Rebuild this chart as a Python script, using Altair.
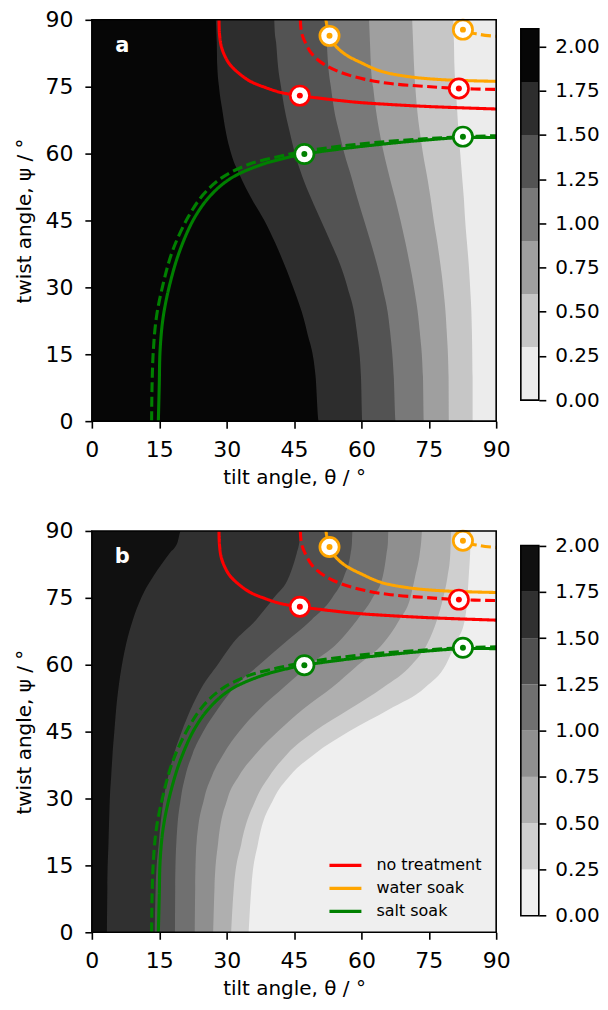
import altair as alt
import pandas as pd

FONT = "DejaVu Sans"
THETA_MIN, THETA_MAX = 0, 90
PSI_MIN, PSI_MAX = 0, 90
AXIS_TICKS = [0, 15, 30, 45, 60, 75, 90]
CB_TICKS = [0.0, 0.25, 0.5, 0.75, 1.0, 1.25, 1.5, 1.75, 2.0]

# twist angle grid on which contour lines were read
PSI = [90, 87.5, 85, 80, 75, 70, 65, 60, 55, 50, 45, 40, 35, 30, 20, 10, 0]

# ---- panel a: contour levels and contour-line tilt angles (per PSI) ----
LEVELS_A = [0.0, 0.3, 0.6, 0.9, 1.2, 1.5, 1.8, 2.1]
CONT_A_180 = [27.6, 27.7, 27.8, 27.9, 28.3, 29.0, 29.8, 31.0, 33.0, 35.5, 38.4, 40.8, 42.9, 44.8, 47.9, 49.8, 50.5]
CONT_A_150 = [40.6, 40.7, 41.0, 41.4, 42.1, 42.9, 44.0, 45.2, 46.8, 48.8, 51.0, 53.2, 55.3, 56.9, 59.0, 59.9, 60.2]
CONT_A_120 = [52.1, 52.2, 52.3, 52.6, 53.2, 53.9, 55.0, 56.2, 57.7, 59.1, 60.6, 62.1, 63.5, 64.7, 66.4, 67.2, 67.6]
CONT_A_090 = [61.7, 61.8, 61.9, 62.1, 62.6, 63.2, 64.0, 65.0, 66.2, 67.5, 68.7, 69.8, 70.8, 71.7, 73.0, 73.7, 73.9]
CONT_A_060 = [71.3, 71.4, 71.5, 71.7, 72.0, 72.4, 73.0, 73.7, 74.6, 75.4, 76.1, 76.9, 77.6, 78.2, 79.0, 79.4, 79.5]
CONT_A_030 = [80.45, 80.5, 80.6, 80.7, 81.0, 81.3, 81.6, 82.0, 82.4, 82.8, 83.1, 83.5, 83.9, 84.2, 84.6, 84.75, 84.8]
CONT_A = {1.8: CONT_A_180, 1.5: CONT_A_150, 1.2: CONT_A_120, 0.9: CONT_A_090, 0.6: CONT_A_060, 0.3: CONT_A_030}
COLORS_A = ["#ececec", "#c6c6c6", "#9f9f9f", "#797979", "#535353", "#2d2d2d", "#060606"]

# ---- panel b ----
LEVELS_B = [0.0, 0.25, 0.5, 0.75, 1.0, 1.25, 1.5, 1.75, 2.0]
CONT_B_175 = [19.8, 19.1, 17.3, 13.8, 11.0, 9.1, 7.7, 6.7, 5.95, 5.4, 5.0, 4.6, 4.3, 4.0, 3.7, 3.45, 3.35]
CONT_B_150 = [46.5, 46.2, 45.6, 44.0, 40.5, 36.5, 31.5, 28.0, 24.5, 22.0, 20.0, 18.3, 17.0, 16.0, 14.9, 14.2, 14.0]
CONT_B_125 = [58.0, 57.9, 57.6, 56.2, 53.5, 48.8, 43.0, 37.3, 31.8, 28.0, 24.8, 22.4, 20.8, 19.8, 18.8, 18.55, 18.5]
CONT_B_100 = [66.0, 65.9, 65.6, 64.8, 62.5, 59.0, 54.8, 48.5, 42.8, 37.3, 32.8, 29.3, 26.7, 25.0, 23.3, 23.0, 22.9]
CONT_B_075 = [73.5, 73.3, 73.0, 72.0, 70.9, 68.4, 65.0, 59.3, 53.6, 47.0, 41.4, 36.5, 32.7, 30.2, 28.1, 27.3, 27.0]
CONT_B_050 = [80.0, 79.9, 79.8, 79.2, 78.2, 76.8, 74.8, 71.2, 65.0, 57.3, 49.5, 43.5, 39.5, 36.6, 33.3, 31.6, 31.0]
CONT_B_025 = [84.4, 84.3, 84.2, 83.9, 83.6, 83.0, 81.0, 78.8, 74.3, 66.2, 57.2, 49.6, 44.0, 40.5, 37.0, 35.5, 34.9]
CONT_B = {1.75: CONT_B_175, 1.5: CONT_B_150, 1.25: CONT_B_125, 1.0: CONT_B_100,
          0.75: CONT_B_075, 0.5: CONT_B_050, 0.25: CONT_B_025}
COLORS_B = ["#efefef", "#cfcfcf", "#afafaf", "#8f8f8f", "#707070", "#505050", "#303030", "#101010"]

# ---- curves (same in both panels) ----
SERIES = ["no treatment", "water soak", "salt soak"]
SERIES_COLORS = ["#ff0000", "#ffa500", "#008000"]

RED_SOLID_T = [28.3, 28.4, 28.8, 29.6, 30.7, 32.5, 35.1, 38.4, 42.1, 46.3, 51.7, 59.1, 66.5, 73.9, 81.3, 90]
RED_SOLID_P = [90, 87.0, 84.1, 81.9, 80.0, 78.2, 76.3, 74.9, 73.7, 73.0, 72.3, 71.5, 71.0, 70.6, 70.3, 70.0]
RED_DASH_T = [46.4, 46.7, 47.7, 49.1, 51.7, 55.4, 60.6, 66.5, 73.9, 81.7, 90]
RED_DASH_P = [90, 87.0, 84.5, 82.2, 80.0, 78.2, 76.7, 75.7, 75.1, 74.6, 74.4]
ORANGE_SOLID_T = [52.1, 52.9, 54.3, 56.5, 59.9, 64.3, 70.2, 77.6, 90]
ORANGE_SOLID_P = [90, 86.4, 84.1, 82.2, 80.4, 78.5, 77.3, 76.6, 76.2]
ORANGE_DASH_T = [82.3, 82.6, 86.5, 90]
ORANGE_DASH_P = [90, 87.8, 86.7, 86.3]
GREEN_SOLID_T = [14.8, 15.0, 15.2, 15.9, 17.4, 19.6, 22.9, 26.6, 31.0, 37.7, 44.3, 47.3, 59.1, 73.9, 82.6, 90]
GREEN_SOLID_P = [0, 8.0, 16.1, 23.5, 30.9, 38.3, 45.7, 50.8, 54.5, 57.5, 59.3, 59.9, 61.5, 63.0, 63.6, 63.6]
GREEN_DASH_T = [13.3, 13.4, 13.7, 14.4, 15.9, 18.0, 21.4, 24.8, 28.8, 34.7, 41.4, 47.3, 59.1, 73.9, 82.6, 90]
GREEN_DASH_P = [0, 8.0, 16.1, 23.5, 30.9, 38.3, 45.7, 50.8, 54.5, 57.5, 59.3, 60.5, 62.1, 63.3, 63.8, 64.0]

MARK_T = [46.3, 81.7, 52.9, 82.6, 47.3, 82.6]
MARK_P = [73.0, 74.6, 86.4, 87.8, 59.9, 63.8]
MARK_S = ["no treatment", "no treatment", "water soak", "water soak", "salt soak", "salt soak"]

curves = [
    ("no treatment", "solid", RED_SOLID_T, RED_SOLID_P),
    ("no treatment", "dashed", RED_DASH_T, RED_DASH_P),
    ("water soak", "solid", ORANGE_SOLID_T, ORANGE_SOLID_P),
    ("water soak", "dashed", ORANGE_DASH_T, ORANGE_DASH_P),
    ("salt soak", "solid", GREEN_SOLID_T, GREEN_SOLID_P),
    ("salt soak", "dashed", GREEN_DASH_T, GREEN_DASH_P),
]
rows = []
for s, k, ts, ps in curves:
    for i, (t, p) in enumerate(zip(ts, ps)):
        rows.append({"theta": t, "psi": p, "treat": s, "kind": k, "idx": i})
lines_df = pd.DataFrame(rows)
marks_df = pd.DataFrame({"theta": MARK_T, "psi": MARK_P, "treat": MARK_S})

W, H = 405, 402

XS = alt.Scale(domain=[THETA_MIN, THETA_MAX], nice=False, zero=False)
YS = alt.Scale(domain=[PSI_MIN, PSI_MAX], nice=False, zero=False)
XA = alt.Axis(values=AXIS_TICKS, title="tilt angle, θ / °", titlePadding=7, labelPadding=11,
              labelFlush=False)
YA = alt.Axis(values=AXIS_TICKS, title="twist angle, ψ / °", titlePadding=10, labelPadding=12,
              labelFlush=False)
SER_SCALE = alt.Scale(domain=SERIES, range=SERIES_COLORS)


def band_frame(bnd):
    """Region on the high-tilt side of one contour line."""
    if bnd[-1] > bnd[0]:
        # contour leans right going down: region lies above the line
        return pd.DataFrame({"t": bnd + [THETA_MAX], "lo": PSI + [PSI_MIN],
                             "hi": [PSI_MAX] * (len(PSI) + 1)})
    # contour leans left going down: region lies below the line
    return pd.DataFrame({"t": bnd + [THETA_MAX], "lo": [PSI_MIN] * (len(PSI) + 1),
                         "hi": PSI + [PSI_MAX]})


def panel(levels, conts, colors, letter, show_legend):
    layers = []
    n = len(levels) - 1
    for i in reversed(range(n - 1)):  # from second-darkest band to lightest
        df = band_frame(conts[levels[i + 1]])
        layers.append(
            alt.Chart(df).mark_area(interpolate="monotone", color=colors[i], clip=True).encode(
                x=alt.X("t:Q", scale=XS, axis=XA),
                y=alt.Y("lo:Q", scale=YS, axis=YA),
                y2="hi:Q",
            )
        )
    if show_legend:
        leg = alt.Legend(orient="none", legendX=242, legendY=323, title=None,
                         symbolType="M-1.6,0H1.6", symbolSize=400, symbolStrokeWidth=3.3,
                         labelFontSize=16, labelFont=FONT, labelColor="black",
                         rowPadding=3, labelOffset=19, padding=0)
    else:
        leg = None
    lines = alt.Chart(lines_df).mark_line(strokeWidth=3.1, interpolate="catmull-rom", clip=True).encode(
        x=alt.X("theta:Q", scale=XS, axis=XA),
        y=alt.Y("psi:Q", scale=YS, axis=YA),
        color=alt.Color("treat:N", scale=SER_SCALE, legend=leg),
        strokeDash=alt.StrokeDash("kind:N", scale=alt.Scale(domain=["solid", "dashed"],
                                                            range=[[1, 0], [10, 4.5]]), legend=None),
        order=alt.Order("idx:Q"),
    )
    rings = alt.Chart(marks_df).mark_point(shape="circle", filled=True, fill="white", size=372,
                                           strokeWidth=2.7, opacity=1).encode(
        x=alt.X("theta:Q", scale=XS, axis=XA),
        y=alt.Y("psi:Q", scale=YS, axis=YA),
        stroke=alt.Stroke("treat:N", scale=SER_SCALE, legend=None),
    )
    dots = alt.Chart(marks_df).mark_point(shape="circle", filled=True, size=36, opacity=1).encode(
        x=alt.X("theta:Q", scale=XS, axis=XA),
        y=alt.Y("psi:Q", scale=YS, axis=YA),
        fill=alt.Fill("treat:N", scale=SER_SCALE, legend=None),
    )
    frame_df = pd.DataFrame({"t0": [THETA_MIN], "t1": [THETA_MAX], "p0": [PSI_MIN], "p1": [PSI_MAX]})
    frame = alt.Chart(frame_df).mark_rect(fillOpacity=0, stroke="black", strokeWidth=1.6).encode(
        x=alt.X("t0:Q", scale=XS, axis=XA), x2="t1:Q",
        y=alt.Y("p0:Q", scale=YS, axis=YA), y2="p1:Q",
    )
    label = alt.Chart(pd.DataFrame({"txt": [letter]})).mark_text(
        font=FONT, fontSize=21, fontWeight="bold", color="white", align="center",
        baseline="alphabetic").encode(text="txt:N", x=alt.value(30.5), y=alt.value(32))
    return alt.layer(*layers, lines, rings, dots, frame, label).properties(
        width=W, height=H, view=alt.ViewBackground(fill=colors[-1], strokeWidth=0))


def colorbar(levels, colors, domain, tag):
    n = len(levels) - 1
    names = [f"{tag}{i}" for i in range(n)]
    df = pd.DataFrame({"lo": levels[:-1], "hi": levels[1:], "band": names})
    ys = alt.Scale(domain=domain, nice=False, zero=False)
    ya = alt.Axis(orient="right", values=CB_TICKS, format=".2f", title=None, labelPadding=9,
                  labelFontSize=20)
    bars = alt.Chart(df).mark_rect().encode(
        y=alt.Y("lo:Q", scale=ys, axis=ya), y2="hi:Q",
        color=alt.Color("band:N", scale=alt.Scale(domain=names, range=colors), legend=None),
    )
    fdf = pd.DataFrame({"lo": [levels[0]], "hi": [levels[-1]]})
    frame = alt.Chart(fdf).mark_rect(fillOpacity=0, stroke="black", strokeWidth=1.6).encode(
        y=alt.Y("lo:Q", scale=ys, axis=ya), y2="hi:Q")
    return alt.layer(bars, frame).properties(width=18, height=H,
                                             view=alt.ViewBackground(strokeWidth=0))


pa = panel(LEVELS_A, CONT_A, COLORS_A, "a", False)
pb = panel(LEVELS_B, CONT_B, COLORS_B, "b", True)
ca = colorbar(LEVELS_A, COLORS_A, [-0.1186, 2.151], "a")
cb = colorbar(LEVELS_B, COLORS_B, [-0.0896, 2.079], "b")

chart = alt.concat(pa, ca, pb, cb, columns=2, spacing={"row": 110, "column": 24.7},
                   bounds="flush").resolve_scale(
    x="independent", y="independent", color="independent", fill="independent",
    stroke="independent", strokeDash="independent"
).properties(padding={"left": 7, "top": 0, "right": 0, "bottom": 0}).configure(
    font=FONT
).configure_axis(
    labelFont=FONT, titleFont=FONT, labelFontSize=22, titleFontSize=20, titleFontWeight="normal",
    labelColor="black", titleColor="black", tickColor="black", tickWidth=1.6, tickSize=7,
    domain=False, grid=False
).configure_view(strokeWidth=0)

chart.save("out.html", embed_options={"renderer": "svg", "actions": False})
